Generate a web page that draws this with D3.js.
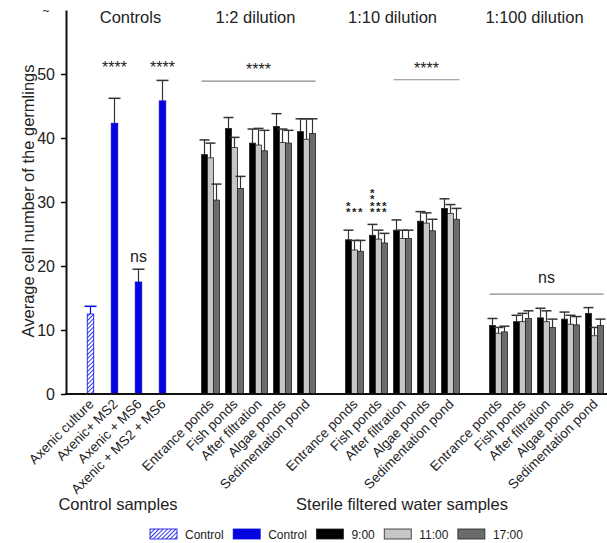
<html>
<head>
<style>
    body { margin: 0; background: #fff; }
    svg text { font-family: "Liberation Sans", Arial, sans-serif; fill: #222; }
</style>
</head>
<body>
<div id="chart"></div>
<script src="https://d3js.org/d3.v7.min.js"></script>
<script>
    // Controls
    const controlLabels = ["Axenic culture", "Axenic+ MS2", "Axenic + MS6", "Axenic + MS2 + MS6"];
    const controlMeans = [12.5, 42.3, 17.5, 45.8];
    const controlErrors = [1.2, 3.9, 2.0, 3.2];
    const controlSig = ["", "****", "ns", "****"];
    const controlSigLevel = [0, 50.2, 20.6, 50.2];

    // Sterile filtered water samples
    const siteLabels = ["Entrance ponds", "Fish ponds", "After filtration", "Algae ponds", "Sedimentation pond"];
    const timeLabels = ["9:00", "11:00", "17:00"];
    const dilutionLabels = ["1:2 dilution", "1:10 dilution", "1:100 dilution"];

    // one row per time (9:00, 11:00, 17:00), one value per site
    const dil2Means = [[37.4, 41.5, 39.2, 41.8, 41.0], [36.9, 38.5, 38.9, 39.3, 39.8], [30.3, 32.1, 38.0, 39.2, 40.7]];
    const dil2Errors = [[2.3, 1.7, 2.2, 2.0, 2.0], [2.3, 1.6, 2.6, 2.1, 3.2], [2.5, 1.9, 3.2, 2.0, 2.3]];
    const dil10Means = [[24.1, 24.8, 25.6, 27.0, 29.0], [22.5, 24.2, 24.3, 26.7, 28.2], [22.3, 23.6, 24.3, 25.5, 27.3]];
    const dil10Errors = [[1.5, 1.7, 1.6, 1.5, 1.5], [1.5, 1.4, 1.3, 1.6, 1.4], [1.7, 1.5, 1.3, 1.8, 1.7]];
    const dil100Means = [[10.7, 11.3, 11.9, 11.7, 12.6], [9.5, 11.3, 11.3, 10.9, 9.1], [9.7, 11.8, 10.4, 10.8, 10.7]];
    const dil100Errors = [[1.1, 1.0, 1.5, 1.1, 0.9], [0.9, 1.3, 1.7, 1.4, 1.3], [0.9, 1.2, 1.3, 1.3, 1.0]];

    // significance above 1:10 bars (number of stars per bar, per site)
    const dil10Stars = [[2, 1, 1], [4, 2, 2], [0, 0, 0], [0, 0, 0], [0, 0, 0]];

    // group brackets: dilution index, first site, last site, level, label
    const brackets = [
        { dil: 0, from: 0, to: 4, level: 48.9, label: "****" },
        { dil: 1, from: 2, to: 4, level: 49.1, label: "****" },
        { dil: 2, from: 0, to: 4, level: 15.6, label: "ns" }
    ];

    const yTicks = [0, 10, 20, 30, 40, 50];

    const W = 607, H = 543;
    const colors = { "9:00": "#000000", "11:00": "#c6c6c6", "17:00": "#6b6b6b" };
    const blue = "#0505e0";

    const svg = d3.select("#chart").append("svg")
        .attr("width", W)
        .attr("height", H);

    // hatch pattern
    svg.append("defs").append("pattern")
        .attr("id", "hatch")
        .attr("patternUnits", "userSpaceOnUse")
        .attr("width", 3)
        .attr("height", 3)
        .attr("patternTransform", "rotate(45)")
        .call(p => p.append("rect").attr("width", 3).attr("height", 3).attr("fill", "#fff"))
        .append("line")
        .attr("x1", 0).attr("y1", 0).attr("x2", 0).attr("y2", 3)
        .attr("stroke", blue).attr("stroke-width", 1.6);

    // slots along x: controls, gap, 3 dilution groups separated by gaps
    const slots = controlLabels.map((d, i) => "c" + i);
    const dilData = [
        { means: dil2Means, errors: dil2Errors },
        { means: dil10Means, errors: dil10Errors },
        { means: dil100Means, errors: dil100Errors }
    ];
    dilutionLabels.forEach((d, k) => {
        slots.push("gap" + k);
        siteLabels.forEach((s, i) => slots.push("d" + k + "_" + i));
    });

    const x = d3.scaleBand()
        .domain(slots)
        .range([78.5, 606.5])
        .paddingInner(0.25)
        .paddingOuter(0.125);

    const xTime = d3.scaleBand()
        .domain(timeLabels)
        .range([0, x.bandwidth()]);

    const y = d3.scaleLinear()
        .domain([0, 60])
        .range([394, 10]);

    const axisX = 66;

    // Y axis
    const yAxis = svg.append("g")
        .attr("transform", `translate(${axisX},0)`)
        .call(d3.axisLeft(y).tickValues(yTicks).tickSize(5).tickSizeOuter(0).tickPadding(6));
    yAxis.select(".domain").attr("stroke", "#111").attr("stroke-width", 2);
    yAxis.selectAll(".tick line").attr("stroke", "#111").attr("stroke-width", 1.5);
    yAxis.selectAll(".tick text")
        .style("font-size", "16px")
        .style("font-family", "'Liberation Sans', Arial, sans-serif")
        .attr("fill", "#222");

    svg.append("text")
        .attr("x", 46).attr("y", 15)
        .attr("text-anchor", "middle")
        .style("font-size", "12px")
        .attr("fill", "#666")
        .text("~");

    // Y axis title
    svg.append("text")
        .attr("transform", `translate(34,201) rotate(-90)`)
        .attr("text-anchor", "middle")
        .style("font-size", "16.5px")
        .text("Average cell number of the germlings");

    // control bars
    const bw = 6.5;
    const ctrl = svg.append("g");
    controlMeans.forEach((m, i) => {
        const cx = x("c" + i) + x.bandwidth() / 2;
        ctrl.append("rect")
            .attr("x", cx - bw / 2)
            .attr("y", y(m))
            .attr("width", bw)
            .attr("height", y(0) - y(m))
            .attr("fill", i === 0 ? "url(#hatch)" : blue)
            .attr("stroke", blue)
            .attr("stroke-width", 0.8);
        const top = y(m + controlErrors[i]);
        const ec = i === 0 ? blue : "#333";
        ctrl.append("line")
            .attr("x1", cx).attr("x2", cx)
            .attr("y1", y(m)).attr("y2", top)
            .attr("stroke", ec).attr("stroke-width", 1.2);
        ctrl.append("line")
            .attr("x1", cx - 6).attr("x2", cx + 6)
            .attr("y1", top).attr("y2", top)
            .attr("stroke", ec).attr("stroke-width", 1.5);
        if (controlSig[i]) {
            ctrl.append("text")
                .attr("x", cx)
                .attr("y", y(controlSigLevel[i]))
                .attr("text-anchor", "middle")
                .style("font-size", "16px")
                .text(controlSig[i]);
        }
    });

    // dilution bars
    dilData.forEach((dd, k) => {
        const g = svg.append("g");
        siteLabels.forEach((s, i) => {
            const x0 = x("d" + k + "_" + i);
            timeLabels.forEach((t, j) => {
                const m = dd.means[j][i];
                const e = dd.errors[j][i];
                const bx = x0 + xTime(t);
                const cx = bx + xTime.bandwidth() / 2;
                g.append("line")
                    .attr("x1", cx).attr("x2", cx)
                    .attr("y1", y(m)).attr("y2", y(m + e))
                    .attr("stroke", "#333").attr("stroke-width", 1.2);
                g.append("line")
                    .attr("x1", cx - 5).attr("x2", cx + 5)
                    .attr("y1", y(m + e)).attr("y2", y(m + e))
                    .attr("stroke", "#333").attr("stroke-width", 1.5);
                g.append("rect")
                    .attr("x", bx)
                    .attr("y", y(m))
                    .attr("width", xTime.bandwidth())
                    .attr("height", y(0) - y(m))
                    .attr("fill", colors[t])
                    .attr("stroke", "#222")
                    .attr("stroke-width", 0.8);
            });
        });
    });

    // stars above 1:10 bars: one text per site, each glyph placed by x/y lists
    dil10Stars.forEach((row, i) => {
        const xs = [], ys = [];
        row.forEach((n, j) => {
            const cx = x("d1_" + i) + xTime(timeLabels[j]) + xTime.bandwidth() / 2 - 2.5;
            for (let s = 0; s < n; s++) {
                xs.push(Math.round(cx));
                ys.push(216 - s * 6.5);
            }
        });
        if (!xs.length) return;
        svg.append("text")
            .attr("x", xs.join(" "))
            .attr("y", ys.join(" "))
            .style("font-size", "11.5px")
            .style("font-weight", "bold")
            .text("*".repeat(xs.length));
    });

    // brackets
    brackets.forEach(b => {
        const x1 = x("d" + b.dil + "_" + b.from);
        const x2 = x("d" + b.dil + "_" + b.to) + x.bandwidth();
        svg.append("line")
            .attr("x1", x1).attr("x2", x2)
            .attr("y1", y(b.level)).attr("y2", y(b.level))
            .attr("stroke", "#8a8a8a").attr("stroke-width", 1.2);
        svg.append("text")
            .attr("x", (x1 + x2) / 2)
            .attr("y", y(b.level) - (b.label === "ns" ? 11 : 6))
            .attr("text-anchor", "middle")
            .style("font-size", "16px")
            .text(b.label);
    });

    // X axis line
    svg.append("line")
        .attr("x1", axisX - 1).attr("x2", W)
        .attr("y1", y(0)).attr("y2", y(0))
        .attr("stroke", "#111").attr("stroke-width", 2);

    // group titles
    const titleOffsets = [4, -3, -10, -12];
    const groupTitles = ["Controls"].concat(dilutionLabels);
    const groupSlots = [slots.slice(0, 4)].concat(dilutionLabels.map((d, k) => siteLabels.map((s, i) => "d" + k + "_" + i)));
    groupTitles.forEach((t, g) => {
        const s = groupSlots[g];
        const cx = (x(s[0]) + x(s[s.length - 1]) + x.bandwidth()) / 2;
        svg.append("text")
            .attr("x", cx + titleOffsets[g])
            .attr("y", 23)
            .attr("text-anchor", "middle")
            .style("font-size", "16.5px")
            .text(t);
    });

    // x tick labels
    const tickLabels = controlLabels.map((l, i) => ({ slot: "c" + i, label: l }));
    dilutionLabels.forEach((d, k) => siteLabels.forEach((s, i) => tickLabels.push({ slot: "d" + k + "_" + i, label: s })));
    svg.append("g").selectAll("text")
        .data(tickLabels)
        .join("text")
        .attr("transform", d => `translate(${x(d.slot) + x.bandwidth() / 2 + 4},${y(0) + 11}) rotate(-45)`)
        .attr("text-anchor", "end")
        .style("font-size", "13.5px")
        .text(d => d.label);

    // section titles
    svg.append("text")
        .attr("x", 118).attr("y", 510)
        .attr("text-anchor", "middle")
        .style("font-size", "16.5px")
        .text("Control samples");
    svg.append("text")
        .attr("x", 402).attr("y", 510)
        .attr("text-anchor", "middle")
        .style("font-size", "16.5px")
        .text("Sterile filtered water samples");

    // legend
    const legendItems = [
        { label: "Control", fill: "url(#hatch)", stroke: blue },
        { label: "Control", fill: blue, stroke: blue },
        { label: "9:00", fill: colors["9:00"], stroke: "#222" },
        { label: "11:00", fill: colors["11:00"], stroke: "#222" },
        { label: "17:00", fill: colors["17:00"], stroke: "#222" }
    ];
    const legend = svg.append("g");
    let lx = 150;
    legendItems.forEach(it => {
        legend.append("rect")
            .attr("x", lx).attr("y", 529)
            .attr("width", 27).attr("height", 10)
            .attr("fill", it.fill)
            .attr("stroke", it.stroke)
            .attr("stroke-width", 0.8);
        const t = legend.append("text")
            .attr("x", lx + 35).attr("y", 539)
            .style("font-size", "12px")
            .text(it.label);
        lx += 35 + t.node().getComputedTextLength() + 9.5;
    });
</script>
</body>
</html>
